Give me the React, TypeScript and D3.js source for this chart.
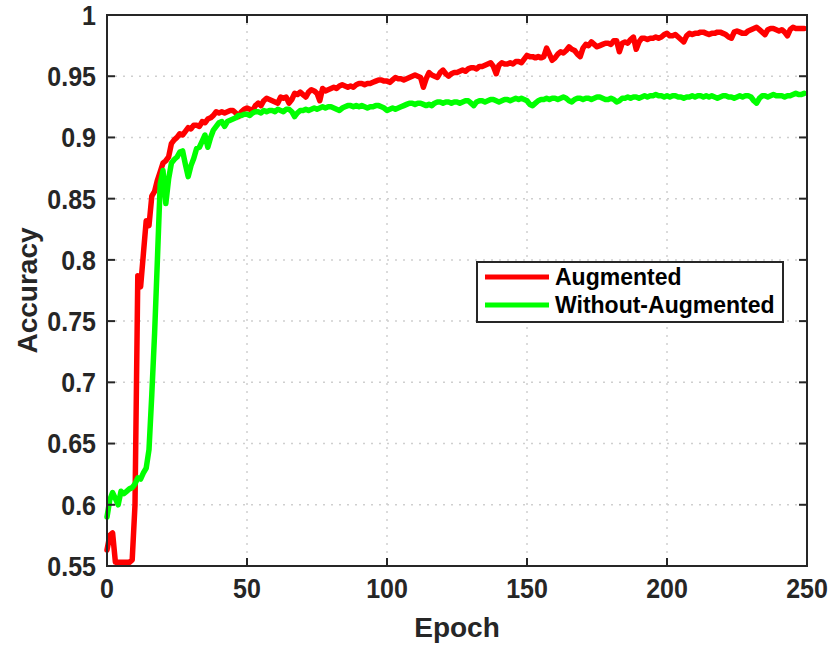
import React from "react";
import * as d3 from "d3";

const xTicks = [0, 50, 100, 150, 200, 250];
const yTicks = [0.55, 0.6, 0.65, 0.7, 0.75, 0.8, 0.85, 0.9, 0.95, 1];
const yTickLabels = ["0.55", "0.6", "0.65", "0.7", "0.75", "0.8", "0.85", "0.9", "0.95", "1"];
const seriesNames = ["Augmented", "Without-Augmented"];
const seriesColors = ["#ff0000", "#00ff00"];

const augmented = [
  0.563, 0.575, 0.577, 0.553, 0.553, 0.553, 0.553, 0.553, 0.553, 0.555,
  0.600, 0.787, 0.778, 0.805, 0.832, 0.828, 0.852, 0.856, 0.865, 0.872,
  0.879, 0.881, 0.884, 0.895, 0.898, 0.900, 0.903, 0.902, 0.905, 0.908,
  0.907, 0.910, 0.910, 0.909, 0.913, 0.912, 0.915, 0.916, 0.918, 0.921,
  0.920, 0.921, 0.920, 0.921, 0.922, 0.922, 0.920, 0.917, 0.921, 0.923,
  0.924, 0.923, 0.922, 0.926, 0.928, 0.926, 0.930, 0.932, 0.931, 0.930,
  0.929, 0.928, 0.933, 0.932, 0.933, 0.928, 0.931, 0.936, 0.935, 0.937,
  0.935, 0.933, 0.937, 0.939, 0.938, 0.936, 0.930, 0.940, 0.938, 0.939,
  0.940, 0.941, 0.940, 0.942, 0.943, 0.942, 0.941, 0.942, 0.941, 0.943,
  0.944, 0.944, 0.943, 0.944, 0.944, 0.945, 0.946, 0.947, 0.947, 0.946,
  0.946, 0.945, 0.947, 0.949, 0.948, 0.948, 0.947, 0.948, 0.949, 0.950,
  0.951, 0.950, 0.949, 0.941, 0.948, 0.953, 0.951, 0.950, 0.949, 0.953,
  0.955, 0.952, 0.950, 0.952, 0.953, 0.953, 0.954, 0.955, 0.954, 0.956,
  0.957, 0.957, 0.956, 0.958, 0.958, 0.959, 0.960, 0.961, 0.958, 0.952,
  0.959, 0.961, 0.960, 0.960, 0.961, 0.960, 0.962, 0.962, 0.961, 0.964,
  0.967, 0.966, 0.966, 0.965, 0.966, 0.965, 0.966, 0.973, 0.968, 0.963,
  0.965, 0.968, 0.970, 0.969, 0.971, 0.974, 0.972, 0.971, 0.968, 0.966,
  0.973, 0.976, 0.975, 0.978, 0.976, 0.974, 0.975, 0.976, 0.977, 0.977,
  0.976, 0.979, 0.979, 0.970, 0.977, 0.978, 0.977, 0.980, 0.982, 0.972,
  0.978, 0.981, 0.981, 0.980, 0.981, 0.981, 0.982, 0.981, 0.982, 0.984,
  0.985, 0.983, 0.983, 0.984, 0.982, 0.980, 0.978, 0.983, 0.985, 0.984,
  0.985, 0.985, 0.986, 0.986, 0.985, 0.984, 0.985, 0.985, 0.986, 0.986,
  0.985, 0.984, 0.982, 0.981, 0.986, 0.987, 0.986, 0.985, 0.985, 0.987,
  0.988, 0.989, 0.990, 0.988, 0.986, 0.984, 0.988, 0.989, 0.989, 0.988,
  0.987, 0.988, 0.986, 0.983, 0.988, 0.990, 0.989, 0.989, 0.989, 0.989,
];

const withoutAugmented = [
  0.590, 0.604, 0.610, 0.605, 0.600, 0.611, 0.609, 0.611, 0.613, 0.614,
  0.617, 0.622, 0.621, 0.626, 0.630, 0.645, 0.690, 0.740, 0.800, 0.862,
  0.873, 0.846, 0.866, 0.879, 0.882, 0.884, 0.888, 0.889, 0.878, 0.868,
  0.877, 0.883, 0.891, 0.892, 0.897, 0.902, 0.892, 0.900, 0.906, 0.909,
  0.912, 0.913, 0.909, 0.913, 0.914, 0.915, 0.916, 0.918, 0.918, 0.919,
  0.919, 0.918, 0.920, 0.921, 0.921, 0.920, 0.922, 0.921, 0.922, 0.922,
  0.921, 0.923, 0.922, 0.921, 0.923, 0.923, 0.921, 0.917, 0.920, 0.922,
  0.922, 0.923, 0.922, 0.923, 0.924, 0.923, 0.924, 0.925, 0.924, 0.925,
  0.925, 0.924, 0.923, 0.922, 0.924, 0.925, 0.926, 0.926, 0.925, 0.926,
  0.925, 0.926, 0.925, 0.924, 0.925, 0.925, 0.926, 0.926, 0.925, 0.924,
  0.922, 0.923, 0.924, 0.923, 0.924, 0.925, 0.926, 0.927, 0.928, 0.928,
  0.927, 0.928, 0.928, 0.927, 0.926, 0.927, 0.926, 0.928, 0.929, 0.929,
  0.928, 0.929, 0.929, 0.928, 0.929, 0.929, 0.928, 0.929, 0.930, 0.930,
  0.928, 0.926, 0.929, 0.930, 0.930, 0.929, 0.930, 0.931, 0.931, 0.930,
  0.929, 0.930, 0.931, 0.931, 0.930, 0.931, 0.932, 0.931, 0.932, 0.931,
  0.930, 0.927, 0.926, 0.928, 0.930, 0.931, 0.931, 0.932, 0.931, 0.932,
  0.932, 0.931, 0.932, 0.933, 0.932, 0.930, 0.929, 0.931, 0.932, 0.932,
  0.931, 0.932, 0.932, 0.931, 0.932, 0.933, 0.933, 0.932, 0.931, 0.931,
  0.932, 0.931, 0.929, 0.930, 0.932, 0.932, 0.933, 0.932, 0.933, 0.933,
  0.932, 0.933, 0.934, 0.933, 0.934, 0.934, 0.935, 0.934, 0.934, 0.933,
  0.934, 0.933, 0.934, 0.934, 0.933, 0.933, 0.932, 0.933, 0.933, 0.934,
  0.933, 0.934, 0.934, 0.933, 0.934, 0.933, 0.934, 0.933, 0.932, 0.933,
  0.934, 0.934, 0.933, 0.933, 0.932, 0.933, 0.934, 0.933, 0.934, 0.934,
  0.933, 0.930, 0.928, 0.932, 0.934, 0.934, 0.933, 0.934, 0.935, 0.934,
  0.934, 0.934, 0.933, 0.934, 0.934, 0.935, 0.936, 0.935, 0.935, 0.936,
];

const W = 832;
const H = 647;
const M = { left: 107, right: 807, top: 15, bottom: 566 };
const AX = "#262626";
const FONT = "'Liberation Sans', Arial, Helvetica, sans-serif";

export default function App() {
  const x = d3.scaleLinear().domain([0, 250]).range([M.left, M.right]);
  const y = d3.scaleLinear().domain([0.55, 1]).range([M.bottom, M.top]);
  const line = d3
    .line<number>()
    .x((_, i) => x(i))
    .y((d) => y(d));
  const series = [augmented, withoutAugmented];
  const tickLen = 8;

  return (
    <svg
      width={W}
      height={H}
      style={{ position: "absolute", left: 0, top: 0, background: "#fff" }}
      fontFamily={FONT}
    >
      <rect x={0} y={0} width={W} height={H} fill="#fff" />
      {/* grid */}
      {xTicks.slice(1, -1).map((t) => (
        <line
          key={"gx" + t}
          x1={x(t)}
          x2={x(t)}
          y1={M.top}
          y2={M.bottom}
          stroke="#cfcfcf"
          strokeWidth={1.5}
          strokeDasharray="2 6"
        />
      ))}
      {yTicks.slice(1, -1).map((t) => (
        <line
          key={"gy" + t}
          x1={M.left}
          x2={M.right}
          y1={y(t)}
          y2={y(t)}
          stroke="#cfcfcf"
          strokeWidth={1.5}
          strokeDasharray="2 6"
        />
      ))}
      {/* series */}
      {series.map((s, i) => (
        <path
          key={i}
          d={line(s) || ""}
          fill="none"
          stroke={seriesColors[i]}
          strokeWidth={5.5}
          strokeLinejoin="round"
          strokeLinecap="round"
        />
      ))}
      {/* box */}
      <rect
        x={M.left}
        y={M.top}
        width={M.right - M.left}
        height={M.bottom - M.top}
        fill="none"
        stroke={AX}
        strokeWidth={2}
      />
      {/* ticks */}
      {xTicks.map((t) => (
        <g key={"tx" + t}>
          <line x1={x(t)} x2={x(t)} y1={M.bottom} y2={M.bottom - tickLen} stroke={AX} strokeWidth={2} />
          <line x1={x(t)} x2={x(t)} y1={M.top} y2={M.top + tickLen} stroke={AX} strokeWidth={2} />
          <text
            transform={`translate(${x(t)},598) scale(1,1.1)`}
            textAnchor="middle"
            fontSize={25}
            fontWeight="bold"
            fill={AX}
          >
            {t}
          </text>
        </g>
      ))}
      {yTicks.map((t, i) => (
        <g key={"ty" + t}>
          <line x1={M.left} x2={M.left + tickLen} y1={y(t)} y2={y(t)} stroke={AX} strokeWidth={2} />
          <line x1={M.right} x2={M.right - tickLen} y1={y(t)} y2={y(t)} stroke={AX} strokeWidth={2} />
          <text
            transform={`translate(96,${y(t)}) scale(1,1.1)`}
            dy="0.36em"
            textAnchor="end"
            fontSize={25}
            fontWeight="bold"
            fill={AX}
          >
            {yTickLabels[i]}
          </text>
        </g>
      ))}
      {/* axis labels */}
      <text
        x={(M.left + M.right) / 2}
        y={637}
        textAnchor="middle"
        fontSize={28}
        fontWeight="bold"
        fill={AX}
      >
        Epoch
      </text>
      <text
        transform={`translate(37,${(M.top + M.bottom) / 2}) rotate(-90)`}
        textAnchor="middle"
        fontSize={28}
        fontWeight="bold"
        fill={AX}
      >
        Accuracy
      </text>
      {/* legend */}
      <rect x={477} y={262} width={306} height={60} fill="#fff" stroke={AX} strokeWidth={2} />
      {seriesNames.map((n, i) => (
        <g key={n}>
          <line
            x1={485}
            x2={549}
            y1={277 + i * 28}
            y2={277 + i * 28}
            stroke={seriesColors[i]}
            strokeWidth={5}
          />
          <text x={555} y={277 + i * 28} dy="0.36em" fontSize={23} fontWeight="bold" fill="#000">
            {n}
          </text>
        </g>
      ))}
    </svg>
  );
}
